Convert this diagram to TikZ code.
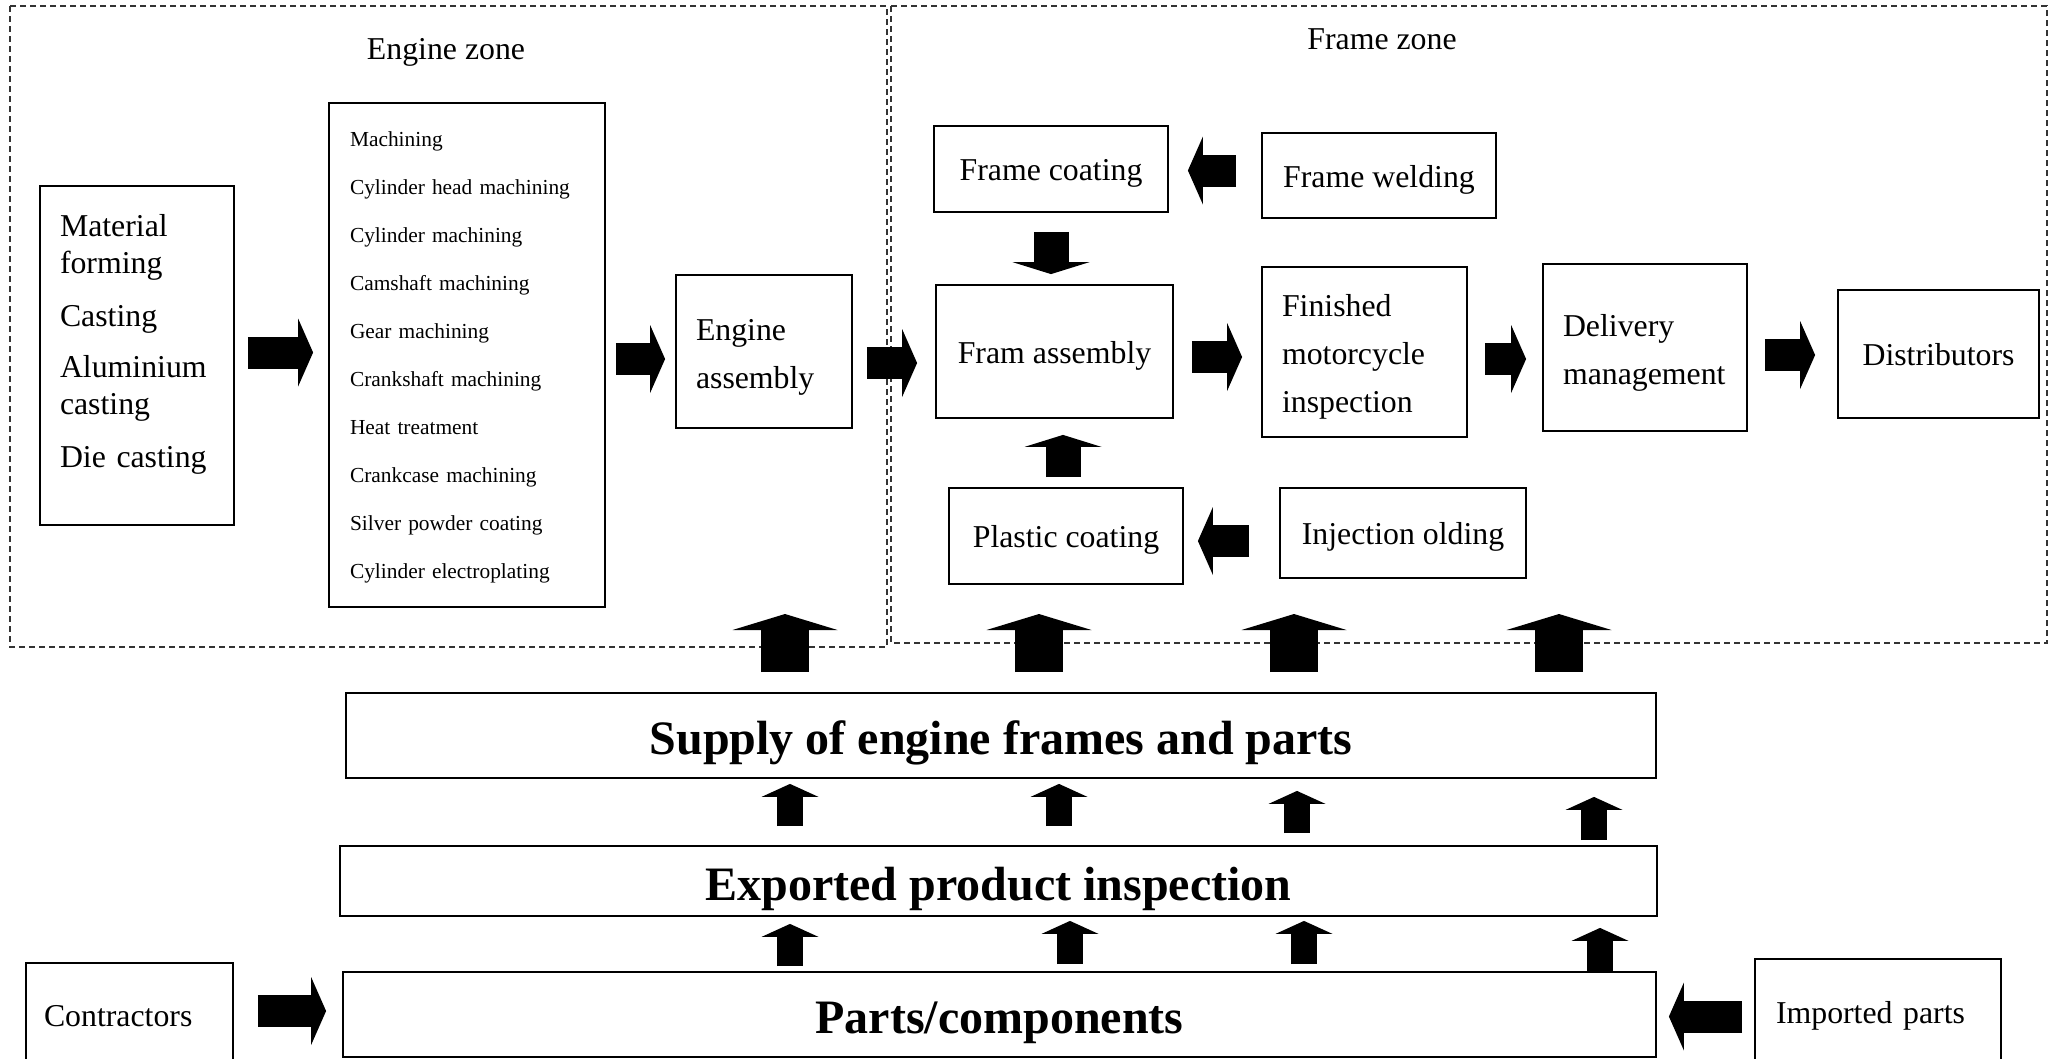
\documentclass[tikz,border=0pt]{standalone}
\usepackage{fontspec}
\setmainfont{Liberation Serif}
\usetikzlibrary{arrows.meta,positioning,calc}
\edef\boxline{1.8pt}
\newcommand{\txtsize}{\fontsize{31.8}{37}\selectfont}
\newcommand{\twosize}{\fontsize{31.8}{48}\selectfont}
\newcommand{\listsize}{\fontsize{21.4}{48}\selectfont}
\newcommand{\bigsize}{\fontsize{48}{56}\selectfont\bfseries}
\newcommand{\upgap}[1]{\rule{0pt}{#1}}
\tikzstyle{stepbox}=[draw,line width=\boxline,inner sep=0pt,font=\txtsize,align=center,text height=23pt,text depth=0pt]
\tikzstyle{headbox}=[stepbox,font=\bigsize,text height=38pt]
\tikzstyle{leftbox}=[draw,line width=\boxline,inner xsep=20pt,inner ysep=0pt,font=\twosize,align=left]
\tikzstyle{zonelabel}=[font=\txtsize,text height=23pt,text depth=0pt]
\tikzstyle{zone}=[draw=black!80,line width=1.5pt,dash pattern=on 6pt off 4pt]
\tikzstyle{fatarrow}=[line width=32pt,-{Triangle[width=68pt,length=15pt,line width=0pt]}]
\tikzstyle{downarrow}=[line width=35pt,-{Triangle[width=77pt,length=12pt,line width=0pt]}]
\tikzstyle{bigup}=[line width=48pt,-{Triangle[width=105pt,length=16pt,line width=0pt]}]
\tikzstyle{smallup}=[line width=26pt,-{Triangle[width=57pt,length=13pt,line width=0pt]}]

\begin{document}
\begin{tikzpicture}[x=1pt,y=-1pt]
	\useasboundingbox (0,0) rectangle (2049,1058);
	\clip (0,0) rectangle (2049,1058);
	\draw[zone] (10,6) rectangle (887,647);
	\draw[zone] (891,6) rectangle (2047,643);
	\node[zonelabel] (ezl) at (446,48) {Engine zone};
	\node[zonelabel] (fzl) at (1382,38) {Frame zone};
	
	\node[leftbox,font=\txtsize,text width=154pt,minimum height=339pt] (mat) at (137,355.5)
		{Material\\forming\\[16pt]Casting\\[14pt]Aluminium\\casting\\[16pt]Die casting\rule[-29pt]{0pt}{29pt}};
	\node[leftbox,font=\listsize,text width=234pt,inner xsep=21pt,minimum height=504pt] (mach) at (467,355)
		{\upgap{20pt}Machining\\Cylinder head machining\\Cylinder machining\\Camshaft machining\\Gear machining\\Crankshaft machining\\Heat treatment\\Crankcase machining\\Silver powder coating\\Cylinder electroplating};
	\node[leftbox,text width=136pt,minimum height=153pt] (eng) at (764,351.5) {\upgap{32pt}Engine\\assembly};
	
	\node[stepbox,minimum width=234pt,minimum height=86pt] (coat) at (1051,169) {Frame coating};
	\node[stepbox,minimum width=234pt,minimum height=85pt] (weld) at (1379,175.5) {Frame welding};
	\node[stepbox,minimum width=237pt,minimum height=133pt] (fram) at (1054.5,351.5) {Fram assembly};
	\node[leftbox,text width=165pt,minimum height=170pt] (fin) at (1364.5,352) {\upgap{32pt}Finished\\motorcycle\\inspection};
	\node[leftbox,text width=164pt,minimum height=167pt] (deliv) at (1645,347.5) {\upgap{32pt}Delivery\\management};
	\node[stepbox,minimum width=201pt,minimum height=128pt] (dist) at (1938.5,354) {Distributors};
	\node[stepbox,minimum width=234pt,minimum height=96pt] (plast) at (1066,536) {Plastic coating};
	\node[stepbox,minimum width=246pt,minimum height=90pt] (inj) at (1403,533) {Injection olding};
	
	\node[headbox,minimum width=1310pt,minimum height=85pt] (sup) at (1001,735.5) {Supply of engine frames and parts};
	\node[headbox,minimum width=1317pt,minimum height=70pt] (expo) at (998.5,881) {Exported product inspection};
	\node[headbox,minimum width=1313pt,minimum height=85pt] (parts) at (999.5,1014.5) {Parts/components};
	\node[stepbox,align=left,text width=171pt,inner xsep=18pt,minimum height=104pt] (contr) at (129.5,1015) {Contractors};
	\node[stepbox,align=left,text width=204pt,inner xsep=21pt,minimum height=106pt] (imp) at (1878,1012) {Imported parts};
	
	\draw[fatarrow,shorten <=13pt,shorten >=15pt] (mat.east |- 0,352.5) -- (mach.west |- 0,352.5);
	\draw[fatarrow,shorten <=10pt,shorten >=10pt] (mach.east |- 0,359) -- (eng.west |- 0,359);
	\draw[fatarrow,shorten <=14pt,shorten >=18pt] (eng.east |- 0,363) -- (fram.west |- 0,363);
	\draw[fatarrow,shorten <=18pt,shorten >=19pt] (fram.east |- 0,357) -- (fin.west |- 0,357);
	\draw[fatarrow,shorten <=17pt,shorten >=16pt] (fin.east |- 0,359) -- (deliv.west |- 0,359);
	\draw[fatarrow,shorten <=17pt,shorten >=22pt] (deliv.east |- 0,355) -- (dist.west |- 0,355);
	\draw[fatarrow,shorten <=25pt,shorten >=19pt] (weld.west |- 0,170.5) -- (coat.east |- 0,170.5);
	\draw[downarrow,shorten <=19pt,shorten >=10pt] (coat.south) -- (coat.south |- fram.north);
	\draw[downarrow,shorten <=10pt,shorten >=16pt] (plast.north -| 1063,0) -- (fram.south -| 1063,0);
	\draw[fatarrow,shorten <=30pt,shorten >=14pt] (inj.west |- 0,541) -- (plast.east |- 0,541);
	\draw[fatarrow,shorten <=24pt,shorten >=16pt] (contr.east |- 0,1011) -- (parts.west |- 0,1011);
	\draw[fatarrow,shorten <=12pt,shorten >=12pt] (imp.west |- 0,1016.5) -- (parts.east |- 0,1016.5);
	
	\coordinate (toprow) at (0,614);
	\foreach \x in {785,1039,1294,1559}
		\draw[bigup,shorten <=20pt] (sup.north -| \x,0) -- (toprow -| \x,0);
	\foreach \x/\a/\b in {790/19/5,1059/19/5,1297/12/12,1594/5/18}
		\draw[smallup,shorten <=\a pt,shorten >=\b pt] (expo.north -| \x,0) -- (sup.south -| \x,0);
	\foreach \x/\a/\b in {790/5/7,1070/7/4,1304/7/4,1600/0/11}
		\draw[smallup,shorten <=\a pt,shorten >=\b pt] (parts.north -| \x,0) -- (expo.south -| \x,0);
\end{tikzpicture}
\end{document}
